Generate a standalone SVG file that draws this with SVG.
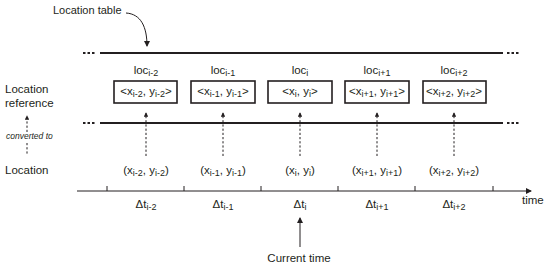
<svg xmlns="http://www.w3.org/2000/svg" width="550" height="268" viewBox="0 0 550 268">
<style>
text{font-family:"Liberation Sans",Arial,sans-serif;font-size:11.5px;fill:#231f20}
.c{text-anchor:middle}
.s{font-size:9px}
.t{font-size:11px}
.it{font-style:italic;font-size:8.5px}
.box{fill:#fff;stroke:#231f20;stroke-width:1.6}
.thick{stroke:#231f20;stroke-width:2;fill:none}
.dots{stroke:#231f20;stroke-width:2;stroke-dasharray:2.5 2;fill:none}
.dash{stroke:#231f20;stroke-width:1;stroke-dasharray:2.2 2;fill:none}
.thin{stroke:#231f20;stroke-width:1;fill:none}
</style>
<defs>
<marker id="ah" viewBox="0 0 6 6" refX="5" refY="3" markerWidth="6" markerHeight="6" markerUnits="userSpaceOnUse" orient="auto"><path d="M0,0 L6,3 L0,6 Z" fill="#231f20"/></marker>
<marker id="ahs" viewBox="0 0 6 6" refX="5" refY="3" markerWidth="4.5" markerHeight="4.5" markerUnits="userSpaceOnUse" orient="auto"><path d="M0,0 L6,3 L0,6 Z" fill="#231f20"/></marker>
</defs>

<g id="labels">
<text x="53" y="14" class="t">Location table</text>
<text x="5" y="93">Location</text>
<text x="5" y="107">reference</text>
<text x="6" y="139" class="it">converted to</text>
<text x="5" y="174">Location</text>
<text x="522" y="204">time</text>
<text x="299" y="262" class="c">Current time</text>
</g>

<g id="connectors">
<path class="thin" d="M126,13 C141,14 147,27 147,46" marker-end="url(#ah)"/>
<line class="thick" x1="100" y1="53" x2="503" y2="53"/>
<line class="dots" x1="83" y1="53" x2="96" y2="53"/>
<line class="dots" x1="507" y1="53" x2="520" y2="53"/>
<line class="thick" x1="100" y1="123" x2="503" y2="123"/>
<line class="dots" x1="83" y1="123" x2="96" y2="123"/>
<line class="dots" x1="507" y1="123" x2="520" y2="123"/>
<line class="dash" x1="27" y1="132" x2="27" y2="116" marker-end="url(#ahs)"/>
<line class="dash" x1="27" y1="143" x2="27" y2="155"/>
<line class="dash" x1="146" y1="156" x2="146" y2="113" marker-end="url(#ahs)"/>
<line class="dash" x1="223" y1="156" x2="223" y2="113" marker-end="url(#ahs)"/>
<line class="dash" x1="300" y1="156" x2="300" y2="113" marker-end="url(#ahs)"/>
<line class="dash" x1="377" y1="156" x2="377" y2="113" marker-end="url(#ahs)"/>
<line class="dash" x1="454" y1="156" x2="454" y2="113" marker-end="url(#ahs)"/>
<line class="thin" x1="77" y1="191" x2="531" y2="191" marker-end="url(#ah)"/>
<path class="thin" d="M107,186V191M184,186V191M261,186V191M338,186V191M415,186V191M493,186V191"/>
<line class="thin" x1="300" y1="247" x2="300" y2="218" marker-end="url(#ah)"/>
</g>

<g id="node-im2">
<text x="146" y="74" class="c">loc<tspan class="s" dy="2">i-2</tspan></text>
<rect class="box" x="114" y="81" width="63" height="22"/>
<text x="146" y="95" class="c">&lt;x<tspan class="s" dy="2">i-2</tspan><tspan dy="-2">, y</tspan><tspan class="s" dy="2">i-2</tspan><tspan dy="-2">&gt;</tspan></text>
<text x="146" y="174" class="c">(x<tspan class="s" dy="2">i-2</tspan><tspan dy="-2">, y</tspan><tspan class="s" dy="2">i-2</tspan><tspan dy="-2">)</tspan></text>
<text x="146" y="208" class="c">Δt<tspan class="s" dy="2">i-2</tspan></text>
</g>

<g id="node-im1">
<text x="223" y="74" class="c">loc<tspan class="s" dy="2">i-1</tspan></text>
<rect class="box" x="191" y="81" width="64" height="22"/>
<text x="223" y="95" class="c">&lt;x<tspan class="s" dy="2">i-1</tspan><tspan dy="-2">, y</tspan><tspan class="s" dy="2">i-1</tspan><tspan dy="-2">&gt;</tspan></text>
<text x="223" y="174" class="c">(x<tspan class="s" dy="2">i-1</tspan><tspan dy="-2">, y</tspan><tspan class="s" dy="2">i-1</tspan><tspan dy="-2">)</tspan></text>
<text x="223" y="208" class="c">Δt<tspan class="s" dy="2">i-1</tspan></text>
</g>

<g id="node-i">
<text x="300" y="74" class="c">loc<tspan class="s" dy="2">i</tspan></text>
<rect class="box" x="268" y="81" width="64" height="22"/>
<text x="300" y="95" class="c">&lt;x<tspan class="s" dy="2">i</tspan><tspan dy="-2">, y</tspan><tspan class="s" dy="2">i</tspan><tspan dy="-2">&gt;</tspan></text>
<text x="300" y="174" class="c">(x<tspan class="s" dy="2">i</tspan><tspan dy="-2">, y</tspan><tspan class="s" dy="2">i</tspan><tspan dy="-2">)</tspan></text>
<text x="300" y="208" class="c">Δt<tspan class="s" dy="2">i</tspan></text>
</g>

<g id="node-ip1">
<text x="377" y="74" class="c">loc<tspan class="s" dy="2">i+1</tspan></text>
<rect class="box" x="345" y="81" width="64" height="22"/>
<text x="377" y="95" class="c">&lt;x<tspan class="s" dy="2">i+1</tspan><tspan dy="-2">, y</tspan><tspan class="s" dy="2">i+1</tspan><tspan dy="-2">&gt;</tspan></text>
<text x="377" y="174" class="c">(x<tspan class="s" dy="2">i+1</tspan><tspan dy="-2">, y</tspan><tspan class="s" dy="2">i+1</tspan><tspan dy="-2">)</tspan></text>
<text x="377" y="208" class="c">Δt<tspan class="s" dy="2">i+1</tspan></text>
</g>

<g id="node-ip2">
<text x="454" y="74" class="c">loc<tspan class="s" dy="2">i+2</tspan></text>
<rect class="box" x="423" y="81" width="63" height="22"/>
<text x="454" y="95" class="c">&lt;x<tspan class="s" dy="2">i+2</tspan><tspan dy="-2">, y</tspan><tspan class="s" dy="2">i+2</tspan><tspan dy="-2">&gt;</tspan></text>
<text x="454" y="174" class="c">(x<tspan class="s" dy="2">i+2</tspan><tspan dy="-2">, y</tspan><tspan class="s" dy="2">i+2</tspan><tspan dy="-2">)</tspan></text>
<text x="454" y="208" class="c">Δt<tspan class="s" dy="2">i+2</tspan></text>
</g>
</svg>
